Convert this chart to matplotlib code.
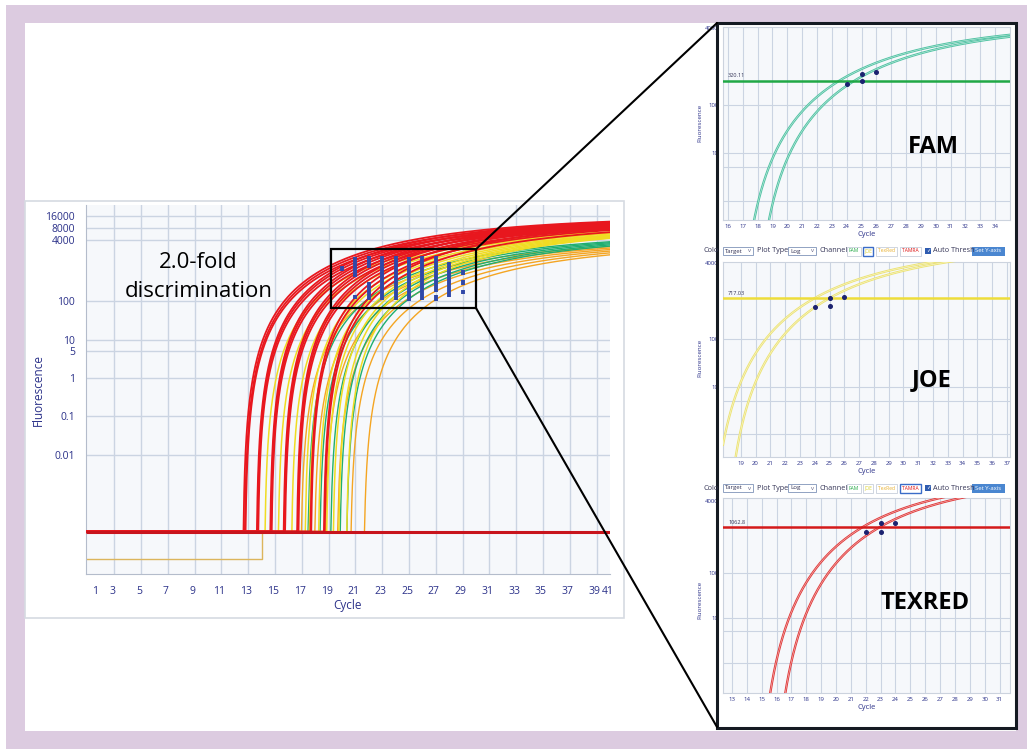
import numpy as np
import matplotlib.pyplot as plt
from matplotlib.patches import Rectangle, ConnectionPatch

plt.rcParams['font.family'] = ['Open Sans', 'DejaVu Sans']

W, H = 1027, 749
NAVY = '#2b3189'
GRID = '#cbd4e2'
PLOT_BG = '#f6f8fb'

# ---------------- main amplification plot ----------------
cycle_labels = ['1', '3', '5', '7', '9', '11', '13', '15', '17', '19', '21', '23', '25',
                '27', '29', '31', '33', '35', '37', '39', '41']
fluor_ticks = [0.01, 0.1, 1, 5, 10, 100, 4000, 8000, 16000]
fluor_labels = ['0.01', '0.1', '1', '5', '10', '100', '4000', '8000', '16000']

red_onset = [12.6, 12.7, 12.75, 13.6, 13.65, 13.7, 14.6, 14.65, 14.7, 15.6, 15.65, 15.7,
             16.6, 16.65, 16.7, 17.6, 17.65, 18.6, 18.65]
red_end = [11700, 10500, 9200, 11300, 10000, 8600, 11000, 9600, 8200, 10600, 9200, 7800,
           10200, 8800, 7400, 9000, 7000, 8200, 6200]
yellow_onset = [14.2, 15.2, 16.2, 17.2, 17.5, 18.2, 18.8, 19.3, 19.7, 20.3]
yellow_end = [6300, 6000, 5800, 5600, 5200, 5000, 4800, 4600, 4400, 4300]
orange_onset = [16.9, 17.9, 18.7, 19.6, 20.6, 21.6]
orange_end = [2600, 2400, 2200, 2000, 1800, 1600]
green_onset = [17.4, 18.3, 19.1, 19.8, 20.3]
green_end = [3500, 3300, 3100, 2900, 2700]

baseline_level = 1e-4
low_baseline_level = 2e-5
low_baseline_end = 14.0

# threshold-crossing marks inside the zoom window
bar_cycle = [20, 21, 21, 22, 22, 23, 24, 25, 26, 27, 27, 28, 29, 29, 29]
bar_low = [600, 430, 115, 710, 107, 107, 107, 100, 107, 174, 100, 129, 480, 270, 150]
bar_high = [830, 1410, 140, 1510, 320, 1510, 1510, 1420, 1510, 1510, 145, 1050, 650, 360, 200]

# ---------------- channel detail panels ----------------
fam_onset = [16.6, 17.6]
fam_end_cycle = [35, 35]
fam_end = [2900, 2650]
fam_threshold = 320.11
fam_dot_cycle = [24, 25, 25, 26]
fam_dot_fluor = [275, 445, 316, 495]

joe_onset = [16.7, 17.7]
joe_end_cycle = [32, 33]
joe_end = [4170, 4170]
joe_threshold = 717.03
joe_dot_cycle = [24, 25, 25, 26]
joe_dot_fluor = [479, 724, 501, 759]

texred_onset = [14.5, 15.5]
texred_end_cycle = [27, 28.4]
texred_end = [4680, 4680]
texred_threshold = 1062.8
texred_dot_cycle = [22, 23, 23, 24]
texred_dot_fluor = [813, 1318, 813, 1318]


def px(x0, y0, x1, y1):
    return [x0 / W, 1 - y1 / H, (x1 - x0) / W, (y1 - y0) / H]


def amp(x, x0, ref_x, ref_f, k, p):
    # rise from the onset cycle, scaled so the curve passes ref_f at ref_x
    dt = np.clip(x - x0, 0, None)
    shape = (1 - np.exp(-k * dt)) ** p
    return ref_f * shape / (1 - np.exp(-k * (ref_x - x0))) ** p


fig = plt.figure(figsize=(W / 100, H / 100), dpi=100)
fig.patch.set_facecolor('white')

bg = fig.add_axes([0, 0, 1, 1], zorder=0)
bg.set_xlim(0, W)
bg.set_ylim(H, 0)
bg.axis('off')
bg.add_patch(Rectangle((6, 5), W - 6, H - 5, color='#dccbe0', lw=0))
bg.add_patch(Rectangle((25, 23), 991, 708, color='white', lw=0))
bg.add_patch(Rectangle((25, 201), 599, 417, fill=False, ec='#d6dae2', lw=1.2))

ax = fig.add_axes(px(86, 205, 610, 574), zorder=2)
ax.set_facecolor(PLOT_BG)
ax.set_yscale('log')
ax.set_xlim(0.9, 40.0)
ax.set_ylim(10 ** -5.1, 10 ** 4.5)
for c in range(3, 40, 2):
    ax.axvline(c, color=GRID, lw=1, zorder=0)
for v in fluor_ticks:
    ax.axhline(v, color=GRID, lw=1, zorder=0)
label_pos = [1.6] + [c - 0.15 for c in range(3, 39, 2)] + [38.85, 39.85]
ax.set_xticks(label_pos, cycle_labels)
ax.set_yticks(fluor_ticks, fluor_labels)
ax.yaxis.set_minor_locator(plt.NullLocator())
ax.tick_params(axis='both', length=0, colors=NAVY, labelsize=7.5)
ax.tick_params(axis='x', pad=9)
ax.tick_params(axis='y', pad=8)
for side in ['top', 'right']:
    ax.spines[side].set_visible(False)
for side in ['left', 'bottom']:
    ax.spines[side].set_color('#b4bccb')
ax.set_xlabel('Cycle', color=NAVY, fontsize=8.5, labelpad=1)
ax.set_ylabel('Fluorescence', color=NAVY, fontsize=8.5, labelpad=0)

x = np.linspace(0.9, 40, 6000)


def draw_group(onsets, ends, color, lw):
    for x0, fe in zip(onsets, ends):
        f = amp(x, x0, 40, fe, 0.085, 3.5)
        f = np.where(x > x0, np.maximum(f, baseline_level), baseline_level)
        ax.plot(x, f, color=color, lw=lw, zorder=3)


ax.plot([0.9, low_baseline_end, low_baseline_end], [low_baseline_level, low_baseline_level, baseline_level],
        color='#dcb55c', lw=1, zorder=2)
draw_group(orange_onset, orange_end, '#f4a522', 1.0)
draw_group(green_onset, green_end, '#1fae70', 1.0)
draw_group(yellow_onset, yellow_end, '#f0dc22', 1.1)
draw_group(red_onset, red_end, '#e8171e', 1.3)
ax.hlines(baseline_level, 0.9, 40, color='#c8141c', lw=2.2, zorder=4)

ax.vlines(bar_cycle, bar_low, bar_high, color='#3048a8', lw=2.8, zorder=5)
ax.add_patch(Rectangle((19.2, 66), 30.0 - 19.2, 2240 - 66, fill=False, ec='black', lw=1.6, zorder=6))

ax.text(9.3, 1000, '2.0-fold', fontsize=16, ha='center', va='center', zorder=6)
ax.text(9.3, 175, 'discrimination', fontsize=16, ha='center', va='center', zorder=6)

# ---------------- detail panels ----------------
fg = fig.add_axes([0, 0, 1, 1], zorder=5)
fg.set_xlim(0, W)
fg.set_ylim(H, 0)
fg.axis('off')
fg.patch.set_alpha(0)

panels = [
    dict(box=(723, 27, 1010, 220), xlim=(15.67, 35.0), ylog=(-0.396, 3.625), ticks=range(16, 35),
         onset=fam_onset, end_cycle=fam_end_cycle, end=fam_end, k=0.11, p=4.5,
         curve='#4fc2a2', thr=fam_threshold, thr_color='#20a845', thr_text='320.11',
         dots=(fam_dot_cycle, fam_dot_fluor), name='FAM', name_xy=(933, 147), ylab_y=123),
    dict(box=(723, 262, 1010, 457), xlim=(17.8, 37.2), ylog=(-0.48, 3.62), ticks=range(19, 38),
         onset=joe_onset, end_cycle=joe_end_cycle, end=joe_end, k=0.11, p=4.5,
         curve='#ece374', thr=joe_threshold, thr_color='#eedd3a', thr_text='717.03',
         dots=(joe_dot_cycle, joe_dot_fluor), name='JOE', name_xy=(932, 380), ylab_y=358),
    dict(box=(723, 498, 1010, 693), xlim=(12.4, 31.7), ylog=(-0.67, 3.67), ticks=range(13, 32),
         onset=texred_onset, end_cycle=texred_end_cycle, end=texred_end, k=0.13, p=5.5,
         curve='#e03a3a', thr=texred_threshold, thr_color='#d41a1a', thr_text='1062.8',
         dots=(texred_dot_cycle, texred_dot_fluor), name='TEXRED', name_xy=(925, 603), ylab_y=600),
]

for p in panels:
    x0p, y0p, x1p, y1p = p['box']
    pa = fig.add_axes(px(x0p, y0p, x1p, y1p), zorder=3)
    pa.set_facecolor(PLOT_BG)
    pa.set_yscale('log')
    pa.set_xlim(*p['xlim'])
    pa.set_ylim(10 ** p['ylog'][0], 10 ** p['ylog'][1])
    for c in p['ticks']:
        pa.axvline(c, color=GRID, lw=0.8, zorder=0)
    for v in [1, 5, 10, 100]:
        pa.axhline(v, color=GRID, lw=0.8, zorder=0)
    pa.set_xticks(list(p['ticks']), [str(c) for c in p['ticks']])
    pa.set_yticks([1, 10, 100, 4000], ['1', '10', '100', '4000'])
    pa.yaxis.set_minor_locator(plt.NullLocator())
    pa.tick_params(axis='both', length=0, colors=NAVY, labelsize=4.3, pad=3)
    for side in pa.spines:
        pa.spines[side].set_color('#ccd3de')
        pa.spines[side].set_linewidth(0.8)
    pa.set_xlabel('Cycle', color=NAVY, fontsize=5.5, labelpad=1)
    xp = np.linspace(p['xlim'][0] - 1, p['xlim'][1], 3000)
    for x0, ec, fe in zip(p['onset'], p['end_cycle'], p['end']):
        f = amp(xp, x0, ec, fe, p['k'], p['p'])
        f = np.where(xp > x0, np.maximum(f, 1e-3), 1e-3)
        pa.plot(xp, f, color=p['curve'], lw=1.7, zorder=3)
        pa.plot(xp, f, color='white', lw=0.4, alpha=0.7, zorder=3)
    pa.axhline(p['thr'], color=p['thr_color'], lw=1.8, zorder=4)
    pa.text(p['xlim'][0] + 0.35, p['thr'] * 1.12, p['thr_text'], fontsize=4, color='#333355',
            va='bottom', zorder=5)
    pa.plot(p['dots'][0], p['dots'][1], 'o', ms=2.6, color='#1b2270', zorder=6)
    fg.text(p['name_xy'][0], p['name_xy'][1], p['name'], fontsize=17, fontweight='bold',
            ha='center', va='center')
    fg.text(700, p['ylab_y'], 'Fluorescence', fontsize=4.5, color=NAVY, rotation=90,
            ha='center', va='center')


def toolbar(yc, active):
    fg.text(703, yc, 'Colo', fontsize=5.2, color='#333355', va='center')
    fg.add_patch(Rectangle((723, yc - 4), 30, 8, fill=False, ec='#7f93b8', lw=0.6))
    fg.text(725, yc, 'Target', fontsize=4.3, color='#333355', va='center')
    fg.text(748, yc, 'v', fontsize=4.3, color='#666688', va='center')
    fg.text(757, yc, 'Plot Type', fontsize=5.2, color='#333355', va='center')
    fg.add_patch(Rectangle((788, yc - 4), 28, 8, fill=False, ec='#7f93b8', lw=0.6))
    fg.text(790, yc, 'Log', fontsize=4.5, color='#333355', va='center')
    fg.text(811, yc, 'v', fontsize=4.3, color='#666688', va='center')
    fg.text(819, yc, 'Channel', fontsize=5.2, color='#333355', va='center')
    buttons = [('FAM', 847, 14, '#22a844'), ('JOE', 863, 10, '#d8d030'),
               ('TexRed', 876, 21, '#e8b030'), ('TAMRA', 900, 21, '#dd1111')]
    for name, bx, bw, col in buttons:
        edge = '#3a6cc8' if name == active else '#c8cfda'
        fg.add_patch(Rectangle((bx, yc - 4.5), bw, 9, fill=False, ec=edge,
                               lw=1.0 if name == active else 0.6))
        fg.text(bx + bw / 2, yc, name, fontsize=3.6, color=col, ha='center', va='center')
    fg.add_patch(Rectangle((925, yc - 3), 6, 6, color='#2f5cb0', lw=0))
    fg.text(928, yc, '✓', fontsize=4, color='white', ha='center', va='center',
            family=['DejaVu Sans'])
    fg.text(933, yc, 'Auto Thresh', fontsize=5.2, color='#333355', va='center')
    fg.add_patch(Rectangle((972, yc - 4.5), 33, 9, color='#4a86d0', lw=0))
    fg.text(988.5, yc, 'Set Y-axis', fontsize=4.3, color='white', ha='center', va='center')


toolbar(251, 'JOE')
toolbar(488, 'TAMRA')

fg.add_patch(Rectangle((717, 23), 299, 705, fill=False, ec='#151a22', lw=2.2))

for ya, yb in [(2240, 23), (66, 727)]:
    con = ConnectionPatch(xyA=(30.0, ya), coordsA=ax.transData,
                          xyB=(717, yb), coordsB=fg.transData, color='black', lw=1.5)
    con.set_zorder(10)
    fig.add_artist(con)

fig.savefig('out.png', dpi=100)
